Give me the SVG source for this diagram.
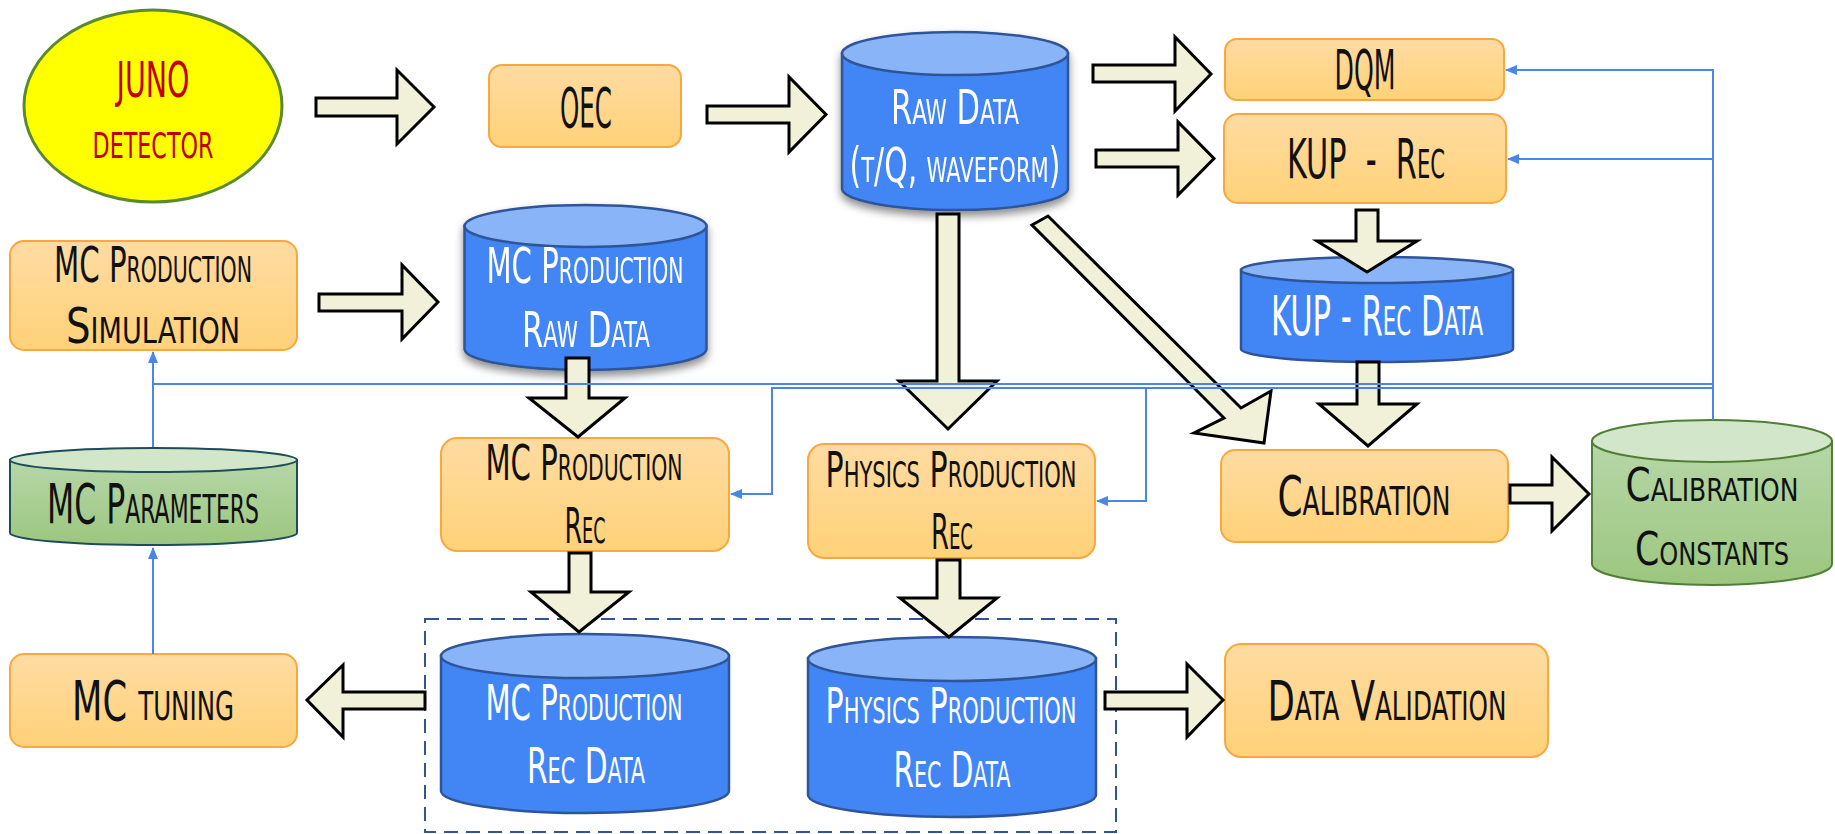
<svg xmlns="http://www.w3.org/2000/svg" width="1835" height="834" viewBox="0 0 1835 834">
<defs>
<linearGradient id="gOr" x1="0" y1="0" x2="0" y2="1"><stop offset="0" stop-color="#fedba2"/><stop offset="1" stop-color="#ffd278"/></linearGradient>
<linearGradient id="gGr" x1="0" y1="0" x2="0" y2="1"><stop offset="0" stop-color="#b6d7a8"/><stop offset="1" stop-color="#9cc67f"/></linearGradient>
<filter id="sh" x="-10%" y="-10%" width="120%" height="130%"><feDropShadow dx="0" dy="5" stdDeviation="4" flood-color="#000" flood-opacity="0.45"/></filter>
<marker id="ah" markerUnits="userSpaceOnUse" markerWidth="12" markerHeight="10" refX="11" refY="5" orient="auto"><path d="M0,0 L12,5 L0,10 z" fill="#4a86e8"/></marker>
<style>
.box{fill:url(#gOr);stroke:#f9a73e;stroke-width:2}
.cb{fill:#4285f4;stroke:#2f5597;stroke-width:2.5}
.ct{fill:#8ab4f8;stroke:#2f5597;stroke-width:2.5}
.gb{fill:url(#gGr);stroke:#4f7e35;stroke-width:2}
.gt{fill:#d2e6ca;stroke:#4f7e35;stroke-width:2}
.gbm{fill:url(#gGr);stroke:#1d4d5a;stroke-width:2}
.gtm{fill:#d2e6ca;stroke:#1d4d5a;stroke-width:2}
.ba{fill:#f0f1d8;stroke:#000;stroke-width:3;stroke-linejoin:miter}
.ln{fill:none;stroke:#4a86e8;stroke-width:2}
text{font-family:"Liberation Sans Narrow","DejaVu Sans Condensed","Liberation Sans",sans-serif;font-stretch:condensed;font-size:56px;font-variant:small-caps;text-anchor:middle;fill:#111}
.w{fill:#fff}
.r{fill:#c00000}
.t{font-size:50px}
.t2{font-size:48px}
.t3{font-size:46px}
</style>
</defs>
<rect x="0" y="0" width="1835" height="834" fill="#fff"/>

<g id="juno">
<ellipse cx="153" cy="106" rx="129" ry="96" fill="#ffff00" stroke="#5b8a2e" stroke-width="3"/>
<text class="r t" x="153" y="97" textLength="73" lengthAdjust="spacingAndGlyphs">JUNO</text>
<text class="r t" x="153" y="158" textLength="121" lengthAdjust="spacingAndGlyphs">detector</text>
</g>

<g id="oec">
<rect class="box" x="489" y="65" width="192" height="82" rx="13"/>
<text x="586" y="127" textLength="52" lengthAdjust="spacingAndGlyphs">OEC</text>
</g>

<g id="raw-data" filter="url(#sh)">
<path class="cb" d="M842,53.5 V188.5 A113,21.5 0 0 0 1068,188.5 V53.5 Z"/>
<ellipse class="ct" cx="955" cy="53.5" rx="113" ry="21.5"/>
<text class="w t2" x="955" y="124" textLength="128" lengthAdjust="spacingAndGlyphs">Raw Data</text>
<text class="w t2" x="955" y="182" textLength="211" lengthAdjust="spacingAndGlyphs">(t/Q, waveform)</text>
</g>

<g id="dqm">
<rect class="box" x="1225" y="39" width="279" height="61" rx="12"/>
<text x="1365" y="89" textLength="61" lengthAdjust="spacingAndGlyphs">DQM</text>
</g>

<g id="kup-rec">
<rect class="box" x="1224" y="114" width="282" height="89" rx="14"/>
<text x="1366" y="178" textLength="158" lengthAdjust="spacingAndGlyphs" xml:space="preserve">KUP  -  Rec</text>
</g>

<g id="kup-rec-data">
<path class="cb" d="M1241,270 V349 A136,13 0 0 0 1513,349 V270 Z"/>
<ellipse class="ct" cx="1377" cy="270" rx="136" ry="13"/>
<text class="w" x="1377" y="335" textLength="212" lengthAdjust="spacingAndGlyphs">KUP - Rec Data</text>
</g>

<g id="mc-sim">
<rect class="box" x="10" y="241" width="287" height="109" rx="14"/>
<text class="t" x="153" y="282" textLength="198" lengthAdjust="spacingAndGlyphs">MC Production</text>
<text class="t" x="153" y="343" textLength="174" lengthAdjust="spacingAndGlyphs">Simulation</text>
</g>

<g id="mc-raw" filter="url(#sh)">
<path class="cb" d="M464.5,226 V349 A121,21 0 0 0 706.5,349 V226 Z"/>
<ellipse class="ct" cx="585.5" cy="226" rx="121" ry="21"/>
<text class="w t" x="585" y="283" textLength="197" lengthAdjust="spacingAndGlyphs">MC Production</text>
<text class="w t" x="586" y="347" textLength="128" lengthAdjust="spacingAndGlyphs">Raw Data</text>
</g>

<g id="mc-params">
<path class="gbm" d="M10,460 V533 A143.5,12 0 0 0 297,533 V460 Z"/>
<ellipse class="gtm" cx="153.5" cy="460" rx="143.5" ry="12"/>
<text x="153" y="523" textLength="212" lengthAdjust="spacingAndGlyphs">MC Parameters</text>
</g>

<g id="mc-tuning">
<rect class="box" x="10" y="654" width="287" height="93" rx="14"/>
<text x="153" y="720" textLength="162" lengthAdjust="spacingAndGlyphs">MC tuning</text>
</g>

<g id="mc-rec">
<rect class="box" x="441" y="438" width="288" height="113" rx="16"/>
<text class="t" x="584" y="480" textLength="197" lengthAdjust="spacingAndGlyphs">MC Production</text>
<text class="t" x="585" y="543" textLength="41" lengthAdjust="spacingAndGlyphs">Rec</text>
</g>

<g id="phys-rec">
<rect class="box" x="808" y="444" width="287" height="114" rx="16"/>
<text class="t" x="951" y="487" textLength="251" lengthAdjust="spacingAndGlyphs">Physics Production</text>
<text class="t" x="952" y="549" textLength="42" lengthAdjust="spacingAndGlyphs">Rec</text>
</g>

<g id="mc-rec-data">
<path class="cb" d="M441,656 V791 A144,22 0 0 0 729,791 V656 Z"/>
<ellipse class="ct" cx="585" cy="656" rx="144" ry="22"/>
<text class="w t" x="584" y="720" textLength="197" lengthAdjust="spacingAndGlyphs">MC Production</text>
<text class="w t" x="586" y="783" textLength="118" lengthAdjust="spacingAndGlyphs">Rec Data</text>
</g>

<g id="phys-rec-data">
<path class="cb" d="M808,659 V795 A144,22 0 0 0 1096,795 V659 Z"/>
<ellipse class="ct" cx="952" cy="659" rx="144" ry="22"/>
<text class="w t" x="951" y="723" textLength="251" lengthAdjust="spacingAndGlyphs">Physics Production</text>
<text class="w t" x="952" y="787" textLength="117" lengthAdjust="spacingAndGlyphs">Rec Data</text>
</g>

<g id="calibration">
<rect class="box" x="1221" y="450" width="287" height="92" rx="14"/>
<text x="1364" y="515" textLength="173" lengthAdjust="spacingAndGlyphs">Calibration</text>
</g>

<g id="calib-constants">
<path class="gb" d="M1592,441 V564 A120,21 0 0 0 1832,564 V441 Z"/>
<ellipse class="gt" cx="1712" cy="441" rx="120" ry="21"/>
<text class="t3" x="1712" y="501" textLength="173" lengthAdjust="spacingAndGlyphs">Calibration</text>
<text class="t3" x="1712" y="565" textLength="154" lengthAdjust="spacingAndGlyphs">Constants</text>
</g>

<g id="data-validation">
<rect class="box" x="1225" y="644" width="323" height="113" rx="16"/>
<text x="1387" y="720" textLength="239" lengthAdjust="spacingAndGlyphs">Data Validation</text>
</g>

<g id="connectors">
<rect x="425" y="619" width="691" height="213" fill="none" stroke="#2f5597" stroke-width="2" stroke-dasharray="14 8"/>
<polygon class="ba" points="316,98 397,98 397,70 434,107 397,144 397,116 316,116"/>
<polygon class="ba" points="319,294 402,294 402,265 438,302 402,339 402,311 319,311"/>
<polygon class="ba" points="707,106 789,106 789,77 826,114.5 789,152 789,123 707,123"/>
<polygon class="ba" points="1093,65 1175,65 1175,37 1211,74 1175,111 1175,82 1093,82"/>
<polygon class="ba" points="1096,150 1178,150 1178,122 1214,158.5 1178,195 1178,167 1096,167"/>
<polygon class="ba" points="937,214 959,214 959,381 997,381 948,429 899,381 937,381"/>
<polygon class="ba" points="1032,225 1048,216 1241,408 1271,391 1264,443 1194,433 1224,418"/>
<polygon class="ba" points="1356,210 1378,210 1378,241 1417,241 1367,272 1317,241 1356,241"/>
<polygon class="ba" points="1357,362 1379,362 1379,404 1417,404 1368,446 1319,404 1357,404"/>
<polygon class="ba" points="1510,485 1552,485 1552,457 1589,494 1552,531 1552,503 1510,503"/>
<polygon class="ba" points="566,358 589,358 589,398 625,398 578,437 529,398 566,398"/>
<polygon class="ba" points="569,553 591,553 591,592 629,592 579,632 531,592 569,592"/>
<polygon class="ba" points="937,560 960,560 960,598 997,598 949,637 900,598 937,598"/>
<polygon class="ba" points="425,692 343,692 343,665 307,700 343,737 343,709 425,709"/>
<polygon class="ba" points="1105,692 1187,692 1187,664 1223,700 1187,737 1187,709 1105,709"/>
<polyline class="ln" points="1713,420 1713,70 1506,70" marker-end="url(#ah)"/>
<polyline class="ln" points="1713,159 1508,159" marker-end="url(#ah)"/>
<polyline class="ln" points="1713,384 153,384 153,352" marker-end="url(#ah)"/>
<polyline class="ln" points="153,447 153,384"/>
<polyline class="ln" points="1713,388 772,388 772,494 731,494" marker-end="url(#ah)"/>
<polyline class="ln" points="1146,388 1146,501 1097,501" marker-end="url(#ah)"/>
<polyline class="ln" points="153,654 153,548" marker-end="url(#ah)"/>
</g>
</svg>
